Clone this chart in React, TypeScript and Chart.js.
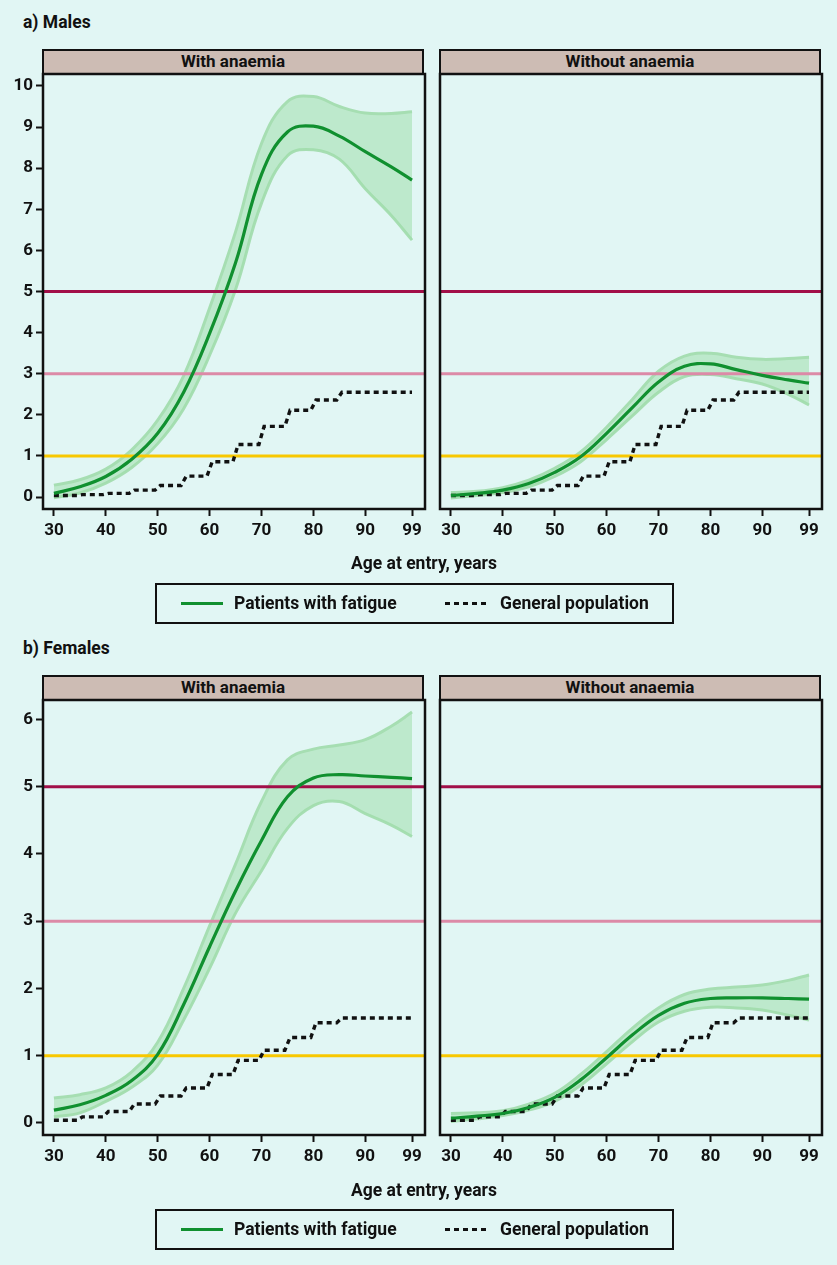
import { useEffect, useRef } from 'react';
import { Chart, registerables } from 'chart.js';

Chart.register(...registerables);

// x positions of the fitted curves (age at entry)
const ages = [30, 35, 40, 45, 50, 55, 60, 65, 70, 75, 80, 85, 90, 95, 99];

// Males, with anaemia
const maleAnaemiaFit = [0.09, 0.25, 0.5, 0.92, 1.55, 2.55, 3.98, 5.7, 7.85, 8.88, 9.02, 8.78, 8.4, 8.03, 7.71];
const maleAnaemiaUpper = [0.29, 0.42, 0.68, 1.15, 1.87, 2.95, 4.6, 6.45, 8.6, 9.62, 9.74, 9.5, 9.34, 9.33, 9.37];
const maleAnaemiaLower = [-0.02, 0.1, 0.34, 0.72, 1.3, 2.15, 3.45, 5.05, 7.15, 8.3, 8.45, 8.22, 7.5, 6.85, 6.25];

// Males, without anaemia
const maleNoAnaemiaFit = [0.04, 0.09, 0.17, 0.33, 0.6, 0.98, 1.55, 2.18, 2.8, 3.18, 3.24, 3.1, 2.96, 2.85, 2.77];
const maleNoAnaemiaUpper = [0.11, 0.14, 0.23, 0.41, 0.7, 1.1, 1.7, 2.38, 3.06, 3.43, 3.5, 3.4, 3.35, 3.37, 3.4];
const maleNoAnaemiaLower = [-0.02, 0.04, 0.11, 0.25, 0.5, 0.86, 1.4, 1.98, 2.55, 2.93, 2.98, 2.88, 2.75, 2.5, 2.24];

// Females, with anaemia
const femaleAnaemiaFit = [0.19, 0.27, 0.41, 0.63, 1.02, 1.76, 2.62, 3.45, 4.2, 4.85, 5.13, 5.18, 5.16, 5.14, 5.12];
const femaleAnaemiaUpper = [0.37, 0.42, 0.52, 0.76, 1.2, 2.0, 2.93, 3.85, 4.78, 5.4, 5.56, 5.62, 5.7, 5.9, 6.11];
const femaleAnaemiaLower = [0.09, 0.15, 0.32, 0.53, 0.86, 1.53, 2.3, 3.12, 3.75, 4.38, 4.72, 4.78, 4.6, 4.43, 4.26];

// Females, without anaemia
const femaleNoAnaemiaFit = [0.07, 0.1, 0.14, 0.23, 0.38, 0.64, 0.97, 1.31, 1.6, 1.78, 1.85, 1.86, 1.86, 1.85, 1.84];
const femaleNoAnaemiaUpper = [0.14, 0.15, 0.18, 0.28, 0.44, 0.72, 1.06, 1.41, 1.71, 1.91, 1.99, 2.02, 2.05, 2.12, 2.2];
const femaleNoAnaemiaLower = [0.02, 0.06, 0.11, 0.19, 0.32, 0.56, 0.88, 1.21, 1.5, 1.66, 1.72, 1.71, 1.68, 1.6, 1.53];

// General population (stepped by 5-year age band)
const genAges = [30, 34.5, 35.5, 39.5, 40.5, 44.5, 45.5, 49.5, 50.5, 54.5, 55.5, 59.5, 60.5, 64.5, 65.5, 69.5, 70.5, 74.5, 75.5, 79.5, 80.5, 84.5, 85.5, 99];
const genMale = [0.04, 0.04, 0.06, 0.06, 0.09, 0.09, 0.17, 0.17, 0.28, 0.28, 0.51, 0.51, 0.86, 0.86, 1.28, 1.28, 1.72, 1.72, 2.11, 2.11, 2.36, 2.36, 2.55, 2.55];
const genFemale = [0.04, 0.04, 0.09, 0.09, 0.17, 0.17, 0.28, 0.28, 0.4, 0.4, 0.52, 0.52, 0.72, 0.72, 0.93, 0.93, 1.08, 1.08, 1.27, 1.27, 1.49, 1.49, 1.56, 1.56];

const xTicks = [30, 40, 50, 60, 70, 80, 90, 99];
const yTicksMale = [0, 1, 2, 3, 4, 5, 6, 7, 8, 9, 10];
const yTicksFemale = [0, 1, 2, 3, 4, 5, 6];

const refLevels = [1, 3, 5];
const refColors = ['#f8c800', '#dc8aa7', '#a10f48'];

const BG = '#e1f6f4';
const STRIP = '#cdbcb4';
const GREEN = '#10902f';
const BAND_FILL = 'rgba(160, 222, 172, 0.55)';
const BAND_EDGE = '#a6deb2';
const FONT = 'Roboto, "DejaVu Sans", sans-serif';
const CURVE_TENSION = 0.4;

const toPoints = (xs: number[], ys: number[]) => xs.map((x, i) => ({ x, y: ys[i] }));

const panelPlugin = {
  id: 'panelDecor',
  afterDatasetDraw(chart: any, args: any) {
    // reference lines go over the band but under the fitted and population lines
    if (args.index !== 2) return;
    const { ctx, chartArea, scales } = chart;
    ctx.save();
    ctx.lineWidth = 3;
    refLevels.forEach((lvl, i) => {
      const y = scales.y.getPixelForValue(lvl);
      ctx.strokeStyle = refColors[i];
      ctx.beginPath();
      ctx.moveTo(chartArea.left, y);
      ctx.lineTo(chartArea.right, y);
      ctx.stroke();
    });
    ctx.restore();
  },
  afterDraw(chart: any) {
    const { ctx, chartArea } = chart;
    ctx.save();
    ctx.strokeStyle = '#111';
    ctx.lineWidth = 2.5;
    ctx.strokeRect(chartArea.left, chartArea.top, chartArea.right - chartArea.left, chartArea.bottom - chartArea.top);
    ctx.restore();
  },
};

interface PanelProps {
  left: number;
  top: number;
  width: number;
  showY: boolean;
  fit: number[];
  upper: number[];
  lower: number[];
  gen: number[];
  yMin: number;
  yMax: number;
  yTicks: number[];
}

function Panel({ left, top, width, showY, fit, upper, lower, gen, yMin, yMax, yTicks }: PanelProps) {
  const canvasRef = useRef<HTMLCanvasElement>(null);

  useEffect(() => {
    if (!canvasRef.current) return;
    const chart = new Chart(canvasRef.current, {
      type: 'line',
      data: {
        datasets: [
          {
            label: 'Patients with fatigue',
            data: toPoints(ages, fit),
            borderColor: GREEN,
            borderWidth: 3.2,
            pointRadius: 0,
            tension: CURVE_TENSION,
            fill: false,
          },
          {
            label: 'General population',
            data: toPoints(genAges, gen),
            borderColor: '#111',
            borderWidth: 3.4,
            borderDash: [5, 4],
            borderCapStyle: 'butt',
            pointRadius: 0,
            tension: 0,
            fill: false,
          },
          {
            label: 'upper',
            data: toPoints(ages, upper),
            borderColor: BAND_EDGE,
            borderWidth: 3,
            pointRadius: 0,
            tension: CURVE_TENSION,
            backgroundColor: BAND_FILL,
            fill: '+1',
          },
          {
            label: 'lower',
            data: toPoints(ages, lower),
            borderColor: BAND_EDGE,
            borderWidth: 3,
            pointRadius: 0,
            tension: CURVE_TENSION,
            fill: false,
          },
        ],
      },
      options: {
        animation: false,
        responsive: true,
        maintainAspectRatio: false,
        layout: { padding: { top: 14, right: 8, left: showY ? 0 : 10, bottom: 0 } },
        plugins: {
          legend: { display: false },
          tooltip: { enabled: false },
        },
        scales: {
          x: {
            type: 'linear',
            min: 27.9,
            max: 101.5,
            afterBuildTicks: (scale: any) => {
              scale.ticks = xTicks.map(v => ({ value: v }));
            },
            afterFit: (scale: any) => {
              scale.height = 51;
            },
            grid: { display: true, drawOnChartArea: false, drawTicks: true, tickLength: 7, tickWidth: 2, tickColor: '#111' },
            border: { display: false },
            ticks: {
              color: '#111',
              padding: 5,
              maxRotation: 0,
              font: { family: FONT, size: 17, weight: 'bold' },
            },
          },
          y: {
            type: 'linear',
            display: showY,
            min: yMin,
            max: yMax,
            afterBuildTicks: (scale: any) => {
              scale.ticks = yTicks.map(v => ({ value: v }));
            },
            afterFit: (scale: any) => {
              scale.width = showY ? 43 : 0;
            },
            grid: { display: true, drawOnChartArea: false, drawTicks: true, tickLength: 7, tickWidth: 2, tickColor: '#111' },
            border: { display: false },
            ticks: {
              color: '#111',
              padding: 3,
              font: { family: FONT, size: 17, weight: 'bold' },
            },
          },
        },
      },
      plugins: [panelPlugin],
    } as any);

    return () => {
      chart.destroy();
    };
  }, []);

  return (
    <div style={{ position: 'absolute', left, top, width, height: 500 }}>
      <canvas ref={canvasRef} />
    </div>
  );
}

function Strip({ left, top, text }: { left: number; top: number; text: string }) {
  return (
    <div
      style={{
        position: 'absolute',
        left: left - 1,
        top,
        width: 382,
        height: 26,
        boxSizing: 'border-box',
        border: '2.5px solid #111',
        background: STRIP,
        textAlign: 'center',
        lineHeight: '21px',
        fontFamily: FONT,
        fontWeight: 700,
        fontSize: 17,
        color: '#111',
      }}
    >
      {text}
    </div>
  );
}

function Legend({ top }: { top: number }) {
  return (
    <div
      style={{
        position: 'absolute',
        left: 155,
        top,
        width: 519,
        height: 41,
        boxSizing: 'border-box',
        border: '2.5px solid #111',
        fontFamily: FONT,
        fontWeight: 700,
        fontSize: 17.5,
        color: '#111',
      }}
    >
      <div style={{ position: 'absolute', left: 24, top: 16.5, width: 42, height: 3.5, background: GREEN }} />
      <div style={{ position: 'absolute', left: 77, top: 7, lineHeight: '22px' }}>Patients with fatigue</div>
      <div
        style={{
          position: 'absolute',
          left: 288,
          top: 16.5,
          width: 42,
          height: 3.5,
          background: 'repeating-linear-gradient(90deg, #111 0 5px, transparent 5px 9px)',
        }}
      />
      <div style={{ position: 'absolute', left: 343, top: 7, lineHeight: '22px' }}>General population</div>
    </div>
  );
}

function Label({ left, top, text, center }: { left: number; top: number; text: string; center?: boolean }) {
  return (
    <div
      style={{
        position: 'absolute',
        left: center ? left - 150 : left,
        width: center ? 300 : undefined,
        textAlign: center ? 'center' : 'left',
        top,
        lineHeight: '22px',
        fontFamily: FONT,
        fontWeight: 700,
        fontSize: 17.5,
        color: '#111',
        whiteSpace: 'nowrap',
      }}
    >
      {text}
    </div>
  );
}

export default function App() {
  return (
    <div style={{ position: 'absolute', left: 0, top: 0, width: 837, height: 1265, background: BG, overflow: 'hidden' }}>
      <Label left={23} top={11} text="a) Males" />
      <Strip left={43} top={49} text="With anaemia" />
      <Strip left={440} top={49} text="Without anaemia" />
      <Panel left={0} top={60} width={433} showY fit={maleAnaemiaFit} upper={maleAnaemiaUpper} lower={maleAnaemiaLower} gen={genMale} yMin={-0.29} yMax={10.29} yTicks={yTicksMale} />
      <Panel left={430} top={60} width={400} showY={false} fit={maleNoAnaemiaFit} upper={maleNoAnaemiaUpper} lower={maleNoAnaemiaLower} gen={genMale} yMin={-0.29} yMax={10.29} yTicks={yTicksMale} />
      <Label left={424} top={552} text="Age at entry, years" center />
      <Legend top={583} />

      <Label left={23} top={637} text="b) Females" />
      <Strip left={43} top={675} text="With anaemia" />
      <Strip left={440} top={675} text="Without anaemia" />
      <Panel left={0} top={686} width={433} showY fit={femaleAnaemiaFit} upper={femaleAnaemiaUpper} lower={femaleAnaemiaLower} gen={genFemale} yMin={-0.18} yMax={6.29} yTicks={yTicksFemale} />
      <Panel left={430} top={686} width={400} showY={false} fit={femaleNoAnaemiaFit} upper={femaleNoAnaemiaUpper} lower={femaleNoAnaemiaLower} gen={genFemale} yMin={-0.18} yMax={6.29} yTicks={yTicksFemale} />
      <Label left={424} top={1179} text="Age at entry, years" center />
      <Legend top={1209} />
    </div>
  );
}
